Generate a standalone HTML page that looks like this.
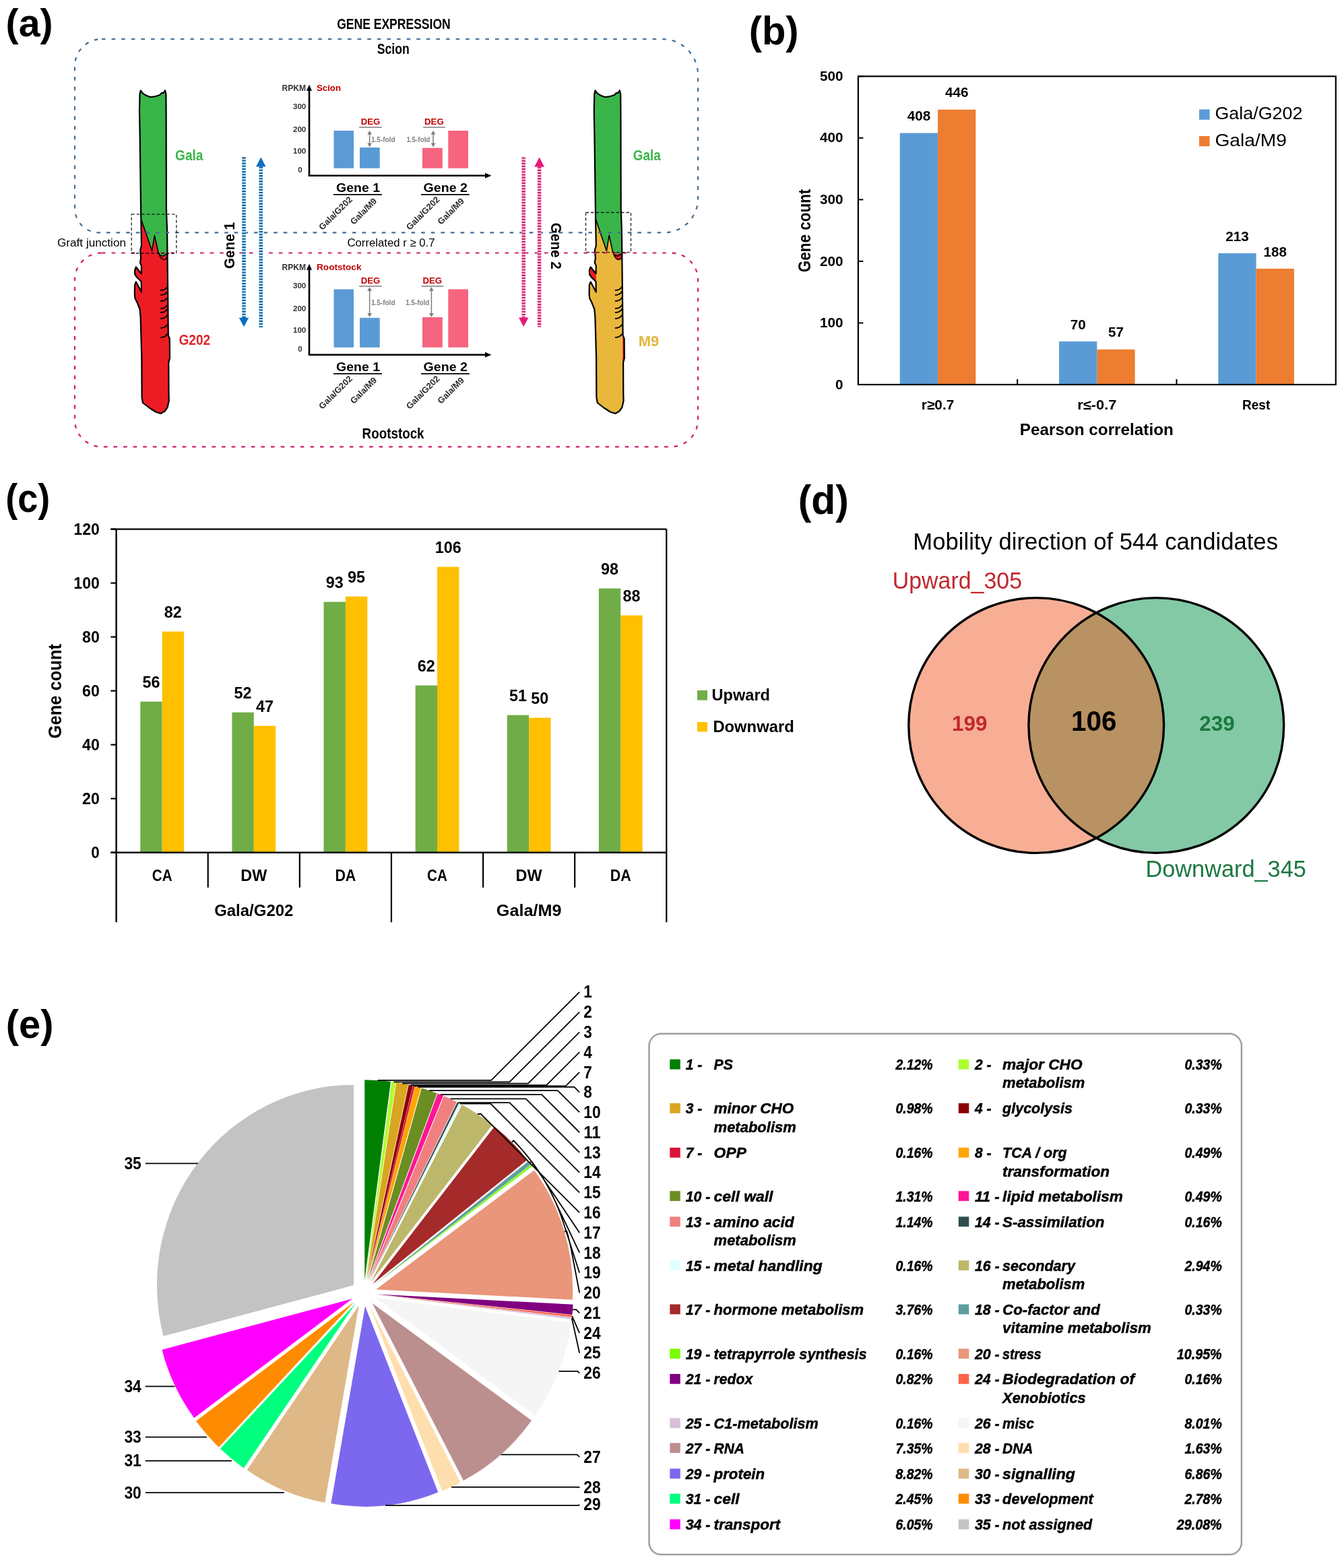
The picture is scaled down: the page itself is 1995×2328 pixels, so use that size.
<!DOCTYPE html>
<html><head><meta charset="utf-8"><title>Figure</title>
<style>html,body{margin:0;padding:0;background:#fff;overflow:hidden}svg{display:block}
text{font-family:'Liberation Sans', Arial, sans-serif}</style></head>
<body><svg width="1995" height="2328" viewBox="0 0 1995 2328">
<rect width="1995" height="2328" fill="#fff"/>
<text x="8.59" y="54.18" font-size="56.81" font-weight="bold" textLength="70.11" lengthAdjust="spacingAndGlyphs">(a)</text>
<text x="1111.71" y="65.94" font-size="59.91" font-weight="bold" textLength="73.89" lengthAdjust="spacingAndGlyphs">(b)</text>
<text x="8.16" y="759.72" font-size="59.06" font-weight="bold" textLength="66.12" lengthAdjust="spacingAndGlyphs">(c)</text>
<text x="1184.67" y="763.13" font-size="60.45" font-weight="bold" textLength="75.14" lengthAdjust="spacingAndGlyphs">(d)</text>
<text x="8.79" y="1541.33" font-size="58.52" font-weight="bold" textLength="70.77" lengthAdjust="spacingAndGlyphs">(e)</text>
<defs><clipPath id="stemclip"><path d="M208.80 134.30 L210.50 136.80 L212.20 138.90 L217.00 141.80 L222.80 144.00 L227.90 143.70 L233.40 142.20 L237.80 140.70 L240.00 137.80 L242.20 138.20 L244.00 136.00 L245.00 134.20 L246.40 139.60 L246.60 165.00 L246.90 310.00 L248.00 340.00 L248.50 377.00 L249.50 470.00 L249.80 498.00 L251.80 503.00 L252.00 532.00 L250.30 538.00 L250.50 585.00 L250.80 595.00 L248.50 605.00 L244.50 610.50 L238.50 614.00 L231.00 611.50 L221.00 605.00 L212.00 598.00 L210.60 590.00 L210.30 531.00 L208.60 470.00 L207.50 459.00 L204.00 450.00 L200.50 443.00 L199.80 437.00 L200.10 423.00 L201.90 418.50 L210.00 433.50 L209.70 418.00 L203.50 412.00 L200.30 407.50 L200.10 401.00 L201.90 396.50 L209.70 406.30 L210.00 394.70 L208.00 390.00 L209.10 383.00 L208.20 371.00 L210.00 365.00 L209.20 318.00 L207.60 197.00 L207.00 165.00 L207.50 139.60 Z"/></clipPath></defs>
<g transform="translate(0.00 0)">
<path d="M208.80 134.30 L210.50 136.80 L212.20 138.90 L217.00 141.80 L222.80 144.00 L227.90 143.70 L233.40 142.20 L237.80 140.70 L240.00 137.80 L242.20 138.20 L244.00 136.00 L245.00 134.20 L246.40 139.60 L246.60 165.00 L246.90 310.00 L248.00 340.00 L248.50 377.00 L249.50 470.00 L249.80 498.00 L251.80 503.00 L252.00 532.00 L250.30 538.00 L250.50 585.00 L250.80 595.00 L248.50 605.00 L244.50 610.50 L238.50 614.00 L231.00 611.50 L221.00 605.00 L212.00 598.00 L210.60 590.00 L210.30 531.00 L208.60 470.00 L207.50 459.00 L204.00 450.00 L200.50 443.00 L199.80 437.00 L200.10 423.00 L201.90 418.50 L210.00 433.50 L209.70 418.00 L203.50 412.00 L200.30 407.50 L200.10 401.00 L201.90 396.50 L209.70 406.30 L210.00 394.70 L208.00 390.00 L209.10 383.00 L208.20 371.00 L210.00 365.00 L209.20 318.00 L207.60 197.00 L207.00 165.00 L207.50 139.60 Z" fill="#ED1C24" stroke="none" stroke-width="1.00" />
<g clip-path="url(#stemclip)">
<path d="M180.00 100.00 L270.00 100.00 L270.00 376.00 L248.00 376.00 L242.00 380.50 L237.00 378.50 L234.80 374.00 L229.40 349.40 L225.60 372.60 L209.70 326.00 L180.00 326.00 Z" fill="#3AB54A" stroke="none" stroke-width="1.00" />
</g>
<path d="M209.7 326 L225.6 372.6 L229.4 349.4 L234.8 374 L237 378.5 L242 380.5 L248.5 376" fill="none" stroke="#000" stroke-width="1.60" stroke-linejoin="round"/>
<path d="M236 377 Q239 386 244.5 385.5 Q248.5 384 248.8 377" fill="none" stroke="#000" stroke-width="1.60" />
<path d="M239 431.0 Q245 431.0 248.3 426.0 M239 438.0 Q245 438.0 248.3 433.0 M239 447.0 Q245 447.0 248.3 442.0 M239 458.0 Q245 458.0 248.3 453.0 M239 464.0 Q245 464.0 248.3 459.0 M239 473.0 Q245 473.0 248.3 468.0 M239 487.0 Q245 487.0 248.3 482.0 M239 501.0 Q245 501.0 248.3 496.0 " fill="none" stroke="#000" stroke-width="2.00" stroke-linecap="round"/>
<path d="M208.80 134.30 L210.50 136.80 L212.20 138.90 L217.00 141.80 L222.80 144.00 L227.90 143.70 L233.40 142.20 L237.80 140.70 L240.00 137.80 L242.20 138.20 L244.00 136.00 L245.00 134.20 L246.40 139.60 L246.60 165.00 L246.90 310.00 L248.00 340.00 L248.50 377.00 L249.50 470.00 L249.80 498.00 L251.80 503.00 L252.00 532.00 L250.30 538.00 L250.50 585.00 L250.80 595.00 L248.50 605.00 L244.50 610.50 L238.50 614.00 L231.00 611.50 L221.00 605.00 L212.00 598.00 L210.60 590.00 L210.30 531.00 L208.60 470.00 L207.50 459.00 L204.00 450.00 L200.50 443.00 L199.80 437.00 L200.10 423.00 L201.90 418.50 L210.00 433.50 L209.70 418.00 L203.50 412.00 L200.30 407.50 L200.10 401.00 L201.90 396.50 L209.70 406.30 L210.00 394.70 L208.00 390.00 L209.10 383.00 L208.20 371.00 L210.00 365.00 L209.20 318.00 L207.60 197.00 L207.00 165.00 L207.50 139.60 Z" fill="none" stroke="#000" stroke-width="2.20" stroke-linejoin="round"/>
</g>
<g transform="translate(674.80 0)">
<path d="M208.80 134.30 L210.50 136.80 L212.20 138.90 L217.00 141.80 L222.80 144.00 L227.90 143.70 L233.40 142.20 L237.80 140.70 L240.00 137.80 L242.20 138.20 L244.00 136.00 L245.00 134.20 L246.40 139.60 L246.60 165.00 L246.90 310.00 L248.00 340.00 L248.50 377.00 L249.50 470.00 L249.80 498.00 L251.80 503.00 L252.00 532.00 L250.30 538.00 L250.50 585.00 L250.80 595.00 L248.50 605.00 L244.50 610.50 L238.50 614.00 L231.00 611.50 L221.00 605.00 L212.00 598.00 L210.60 590.00 L210.30 531.00 L208.60 470.00 L207.50 459.00 L204.00 450.00 L200.50 443.00 L199.80 437.00 L200.10 423.00 L201.90 418.50 L210.00 433.50 L209.70 418.00 L203.50 412.00 L200.30 407.50 L200.10 401.00 L201.90 396.50 L209.70 406.30 L210.00 394.70 L208.00 390.00 L209.10 383.00 L208.20 371.00 L210.00 365.00 L209.20 318.00 L207.60 197.00 L207.00 165.00 L207.50 139.60 Z" fill="#E9B73C" stroke="none" stroke-width="1.00" />
<g clip-path="url(#stemclip)">
<path d="M180.00 100.00 L270.00 100.00 L270.00 376.00 L248.00 376.00 L242.00 380.50 L237.00 378.50 L234.80 374.00 L229.40 349.40 L225.60 372.60 L209.70 326.00 L180.00 326.00 Z" fill="#3AB54A" stroke="none" stroke-width="1.00" />
<path d="M199.00 394.00 L210.00 394.00 L210.00 420.00 L199.00 410.00 Z" fill="#ED1C24" stroke="none" stroke-width="1.00" />
<path d="M236 377 Q239 386 244.5 385.5 Q248.5 384 248.8 377 Z" fill="#ED1C24" stroke="none" stroke-width="1.00" />
<path d="M249.50 500.00 L253.00 500.00 L253.00 537.00 L249.50 537.00 Z" fill="#ED1C24" stroke="none" stroke-width="1.00" />
</g>
<path d="M209.7 326 L225.6 372.6 L229.4 349.4 L234.8 374 L237 378.5 L242 380.5 L248.5 376" fill="none" stroke="#000" stroke-width="1.60" stroke-linejoin="round"/>
<path d="M236 377 Q239 386 244.5 385.5 Q248.5 384 248.8 377" fill="none" stroke="#000" stroke-width="1.60" />
<path d="M239 431.0 Q245 431.0 248.3 426.0 M239 438.0 Q245 438.0 248.3 433.0 M239 447.0 Q245 447.0 248.3 442.0 M239 458.0 Q245 458.0 248.3 453.0 M239 464.0 Q245 464.0 248.3 459.0 M239 473.0 Q245 473.0 248.3 468.0 M239 487.0 Q245 487.0 248.3 482.0 M239 501.0 Q245 501.0 248.3 496.0 " fill="none" stroke="#000" stroke-width="2.00" stroke-linecap="round"/>
<path d="M208.80 134.30 L210.50 136.80 L212.20 138.90 L217.00 141.80 L222.80 144.00 L227.90 143.70 L233.40 142.20 L237.80 140.70 L240.00 137.80 L242.20 138.20 L244.00 136.00 L245.00 134.20 L246.40 139.60 L246.60 165.00 L246.90 310.00 L248.00 340.00 L248.50 377.00 L249.50 470.00 L249.80 498.00 L251.80 503.00 L252.00 532.00 L250.30 538.00 L250.50 585.00 L250.80 595.00 L248.50 605.00 L244.50 610.50 L238.50 614.00 L231.00 611.50 L221.00 605.00 L212.00 598.00 L210.60 590.00 L210.30 531.00 L208.60 470.00 L207.50 459.00 L204.00 450.00 L200.50 443.00 L199.80 437.00 L200.10 423.00 L201.90 418.50 L210.00 433.50 L209.70 418.00 L203.50 412.00 L200.30 407.50 L200.10 401.00 L201.90 396.50 L209.70 406.30 L210.00 394.70 L208.00 390.00 L209.10 383.00 L208.20 371.00 L210.00 365.00 L209.20 318.00 L207.60 197.00 L207.00 165.00 L207.50 139.60 Z" fill="none" stroke="#000" stroke-width="2.20" stroke-linejoin="round"/>
</g>
<path d="M151 58 H983 A53 53 0 0 1 1036 111 V295 A50.4 50.4 0 0 1 985.6 345.4 H147 A36 36 0 0 1 111 309.4 V98 A40 40 0 0 1 151 58 Z" fill="none" stroke="#3E6D99" stroke-width="2.20" stroke-dasharray="5.6 9"/>
<path d="M151 375.5 H996 A40 40 0 0 1 1036 415.5 V623.3 A40 40 0 0 1 996 663.3 H151 A40 40 0 0 1 111 623.3 V415.5 A40 40 0 0 1 151 375.5 Z" fill="none" stroke="#D31A6C" stroke-width="2.20" stroke-dasharray="5.6 9"/>
<rect x="195.2" y="318.2" width="66.7" height="57.8" fill="none" stroke="#222" stroke-width="1.3" stroke-dasharray="4.5 3" style="mix-blend-mode:multiply"/>
<rect x="869.5" y="315.5" width="67.0" height="59.1" fill="none" stroke="#222" stroke-width="1.3" stroke-dasharray="4.5 3" style="mix-blend-mode:multiply"/>
<line x1="362.00" y1="233.30" x2="362.00" y2="472.00" stroke="#CDEFFB" stroke-width="5.50" />
<line x1="362.00" y1="233.30" x2="362.00" y2="472.00" stroke="#0D5C9E" stroke-width="5.50" stroke-dasharray="2.1 2.05"/>
<path d="M354.8 471.7 L369.2 471.7 L362 485.2 Z" fill="#0B6CC2" stroke="none" stroke-width="1.00" />
<line x1="387.30" y1="247.60" x2="387.30" y2="486.00" stroke="#CDEFFB" stroke-width="5.50" />
<line x1="387.30" y1="247.60" x2="387.30" y2="486.00" stroke="#0D5C9E" stroke-width="5.50" stroke-dasharray="2.1 2.05"/>
<path d="M380 247.6 L394.6 247.6 L387.3 233.6 Z" fill="#0B6CC2" stroke="none" stroke-width="1.00" />
<line x1="777.20" y1="233.50" x2="777.20" y2="471.40" stroke="#F8C9DC" stroke-width="5.50" />
<line x1="777.20" y1="233.50" x2="777.20" y2="471.40" stroke="#D11F6D" stroke-width="5.50" stroke-dasharray="2.1 2.05"/>
<path d="M770 471.4 L784.6 471.4 L777.2 484.9 Z" fill="#E6197A" stroke="none" stroke-width="1.00" />
<line x1="800.60" y1="247.70" x2="800.60" y2="485.50" stroke="#F8C9DC" stroke-width="5.50" />
<line x1="800.60" y1="247.70" x2="800.60" y2="485.50" stroke="#D11F6D" stroke-width="5.50" stroke-dasharray="2.1 2.05"/>
<path d="M793.2 247.7 L808 247.7 L800.6 233.5 Z" fill="#E6197A" stroke="none" stroke-width="1.00" />
<text x="500.20" y="43.20" font-size="21.50" font-weight="bold" textLength="168.50" lengthAdjust="spacingAndGlyphs">GENE EXPRESSION</text>
<text x="583.80" y="80.00" font-size="21.50" font-weight="bold" text-anchor="middle" textLength="48.00" lengthAdjust="spacingAndGlyphs">Scion</text>
<text x="583.60" y="650.80" font-size="21.50" font-weight="bold" text-anchor="middle" textLength="92.00" lengthAdjust="spacingAndGlyphs">Rootstock</text>
<text x="260.00" y="237.90" font-size="22.50" font-weight="bold" fill="#3AB54A" textLength="41.50" lengthAdjust="spacingAndGlyphs">Gala</text>
<text x="939.70" y="238.00" font-size="22.50" font-weight="bold" fill="#3AB54A" textLength="41.00" lengthAdjust="spacingAndGlyphs">Gala</text>
<text x="265.40" y="512.30" font-size="22.20" font-weight="bold" fill="#E0262B" textLength="46.80" lengthAdjust="spacingAndGlyphs">G202</text>
<text x="947.80" y="513.70" font-size="22.20" font-weight="bold" fill="#E5B53C" textLength="30.50" lengthAdjust="spacingAndGlyphs">M9</text>
<text x="85.00" y="366.00" font-size="17.00" textLength="102.00" lengthAdjust="spacingAndGlyphs">Graft junction</text>
<text x="515.50" y="366.40" font-size="17.00" textLength="130.00" lengthAdjust="spacingAndGlyphs">Correlated r ≥ 0.7</text>
<text transform="translate(348.40 399.00) rotate(-90.00)" x="0.00" y="0.00" font-size="22.40" font-weight="bold" textLength="69.00" lengthAdjust="spacingAndGlyphs">Gene 1</text>
<text transform="translate(817.70 330.80) rotate(90.00)" x="0.00" y="0.00" font-size="22.40" font-weight="bold" textLength="69.00" lengthAdjust="spacingAndGlyphs">Gene 2</text>
<line x1="459.00" y1="133.70" x2="459.00" y2="260.80" stroke="#000" stroke-width="2.60" />
<path d="M455.0 134.7 L463.0 134.7 L459.0 125.7 Z" fill="#000" stroke="none" stroke-width="1.00" />
<line x1="457.70" y1="260.80" x2="721.00" y2="260.80" stroke="#000" stroke-width="2.60" />
<path d="M720 256.8 L720 264.8 L729.5 260.8 Z" fill="#000" stroke="none" stroke-width="1.00" />
<text x="454.00" y="134.50" font-size="12.60" font-weight="bold" text-anchor="end" fill="#333" textLength="35.50" lengthAdjust="spacingAndGlyphs">RPKM</text>
<text x="470.00" y="135.00" font-size="12.80" font-weight="bold" fill="#C00000" textLength="36.00" lengthAdjust="spacingAndGlyphs">Scion</text>
<text x="454.30" y="162.00" font-size="11.60" font-weight="bold" text-anchor="end" fill="#333">300</text>
<text x="454.30" y="195.50" font-size="11.60" font-weight="bold" text-anchor="end" fill="#333">200</text>
<text x="454.30" y="228.00" font-size="11.60" font-weight="bold" text-anchor="end" fill="#333">100</text>
<text x="448.80" y="256.00" font-size="11.60" font-weight="bold" text-anchor="end" fill="#333">0</text>
<rect x="495.50" y="194.00" width="29.50" height="55.80" fill="#5B9BD5" />
<rect x="534.00" y="219.00" width="29.70" height="30.80" fill="#5B9BD5" />
<rect x="627.00" y="219.60" width="29.80" height="30.20" fill="#F7647F" />
<rect x="665.30" y="194.00" width="29.70" height="55.80" fill="#F7647F" />
<text x="550.10" y="185.00" font-size="13.40" font-weight="bold" text-anchor="middle" fill="#C00000" textLength="28.60" lengthAdjust="spacingAndGlyphs">DEG</text>
<line x1="533.00" y1="189.00" x2="566.70" y2="189.00" stroke="#7F7F7F" stroke-width="1.60" />
<text x="644.40" y="185.00" font-size="13.40" font-weight="bold" text-anchor="middle" fill="#C00000" textLength="28.60" lengthAdjust="spacingAndGlyphs">DEG</text>
<line x1="628.00" y1="189.00" x2="660.80" y2="189.00" stroke="#7F7F7F" stroke-width="1.60" />
<line x1="548.60" y1="198.70" x2="548.60" y2="213.50" stroke="#7F7F7F" stroke-width="1.50" />
<path d="M545.3 199.7 L551.9 199.7 L548.6 193.7 Z" fill="#7F7F7F" stroke="none" stroke-width="1.00" />
<path d="M545.3 212.5 L551.9 212.5 L548.6 218.5 Z" fill="#7F7F7F" stroke="none" stroke-width="1.00" />
<line x1="643.00" y1="198.70" x2="643.00" y2="213.50" stroke="#7F7F7F" stroke-width="1.50" />
<path d="M639.7 199.7 L646.3 199.7 L643.0 193.7 Z" fill="#7F7F7F" stroke="none" stroke-width="1.00" />
<path d="M639.7 212.5 L646.3 212.5 L643.0 218.5 Z" fill="#7F7F7F" stroke="none" stroke-width="1.00" />
<text x="551.00" y="211.00" font-size="11.60" font-weight="bold" fill="#808080" textLength="35.50" lengthAdjust="spacingAndGlyphs">1.5-fold</text>
<text x="603.40" y="210.50" font-size="11.60" font-weight="bold" fill="#808080" textLength="35.00" lengthAdjust="spacingAndGlyphs">1.5-fold</text>
<text x="531.50" y="285.00" font-size="17.80" font-weight="bold" text-anchor="middle" textLength="65.00" lengthAdjust="spacingAndGlyphs">Gene 1</text>
<line x1="495.00" y1="288.80" x2="567.00" y2="288.80" stroke="#000" stroke-width="1.80" />
<text x="661.30" y="285.00" font-size="17.80" font-weight="bold" text-anchor="middle" textLength="65.50" lengthAdjust="spacingAndGlyphs">Gene 2</text>
<line x1="625.00" y1="288.80" x2="696.80" y2="288.80" stroke="#000" stroke-width="1.80" />
<text transform="translate(523.80 297.00) rotate(-45.00)" x="0.00" y="0.00" font-size="13.00" font-weight="bold" text-anchor="end" fill="#2b2b2b" textLength="64.00" lengthAdjust="spacingAndGlyphs">Gala/G202</text>
<text transform="translate(560.20 299.30) rotate(-45.00)" x="0.00" y="0.00" font-size="13.00" font-weight="bold" text-anchor="end" fill="#2b2b2b" textLength="49.50" lengthAdjust="spacingAndGlyphs">Gala/M9</text>
<text transform="translate(653.40 297.00) rotate(-45.00)" x="0.00" y="0.00" font-size="13.00" font-weight="bold" text-anchor="end" fill="#2b2b2b" textLength="64.00" lengthAdjust="spacingAndGlyphs">Gala/G202</text>
<text transform="translate(689.80 299.30) rotate(-45.00)" x="0.00" y="0.00" font-size="13.00" font-weight="bold" text-anchor="end" fill="#2b2b2b" textLength="49.50" lengthAdjust="spacingAndGlyphs">Gala/M9</text>
<line x1="459.00" y1="399.70" x2="459.00" y2="526.80" stroke="#000" stroke-width="2.60" />
<path d="M455.0 400.7 L463.0 400.7 L459.0 391.7 Z" fill="#000" stroke="none" stroke-width="1.00" />
<line x1="457.70" y1="526.80" x2="721.00" y2="526.80" stroke="#000" stroke-width="2.60" />
<path d="M720 522.8 L720 530.8 L729.5 526.8 Z" fill="#000" stroke="none" stroke-width="1.00" />
<text x="454.00" y="400.50" font-size="12.60" font-weight="bold" text-anchor="end" fill="#333" textLength="35.50" lengthAdjust="spacingAndGlyphs">RPKM</text>
<text x="470.00" y="401.00" font-size="12.80" font-weight="bold" fill="#C00000" textLength="66.50" lengthAdjust="spacingAndGlyphs">Rootstock</text>
<text x="454.30" y="428.00" font-size="11.60" font-weight="bold" text-anchor="end" fill="#333">300</text>
<text x="454.30" y="461.50" font-size="11.60" font-weight="bold" text-anchor="end" fill="#333">200</text>
<text x="454.30" y="494.00" font-size="11.60" font-weight="bold" text-anchor="end" fill="#333">100</text>
<text x="448.80" y="522.00" font-size="11.60" font-weight="bold" text-anchor="end" fill="#333">0</text>
<rect x="495.50" y="429.50" width="29.50" height="86.30" fill="#5B9BD5" />
<rect x="534.00" y="471.90" width="29.70" height="43.90" fill="#5B9BD5" />
<rect x="627.00" y="471.00" width="29.80" height="44.80" fill="#F7647F" />
<rect x="665.30" y="429.50" width="29.70" height="86.30" fill="#F7647F" />
<text x="550.10" y="421.20" font-size="13.40" font-weight="bold" text-anchor="middle" fill="#C00000" textLength="28.60" lengthAdjust="spacingAndGlyphs">DEG</text>
<line x1="533.00" y1="425.00" x2="566.70" y2="425.00" stroke="#7F7F7F" stroke-width="1.60" />
<text x="641.80" y="421.20" font-size="13.40" font-weight="bold" text-anchor="middle" fill="#C00000" textLength="28.60" lengthAdjust="spacingAndGlyphs">DEG</text>
<line x1="625.40" y1="425.00" x2="658.20" y2="425.00" stroke="#7F7F7F" stroke-width="1.60" />
<line x1="548.60" y1="431.00" x2="548.60" y2="466.00" stroke="#7F7F7F" stroke-width="1.50" />
<path d="M545.3 432.0 L551.9 432.0 L548.6 426.0 Z" fill="#7F7F7F" stroke="none" stroke-width="1.00" />
<path d="M545.3 465.0 L551.9 465.0 L548.6 471.0 Z" fill="#7F7F7F" stroke="none" stroke-width="1.00" />
<line x1="640.40" y1="431.00" x2="640.40" y2="466.00" stroke="#7F7F7F" stroke-width="1.50" />
<path d="M637.1 432.0 L643.7 432.0 L640.4 426.0 Z" fill="#7F7F7F" stroke="none" stroke-width="1.00" />
<path d="M637.1 465.0 L643.7 465.0 L640.4 471.0 Z" fill="#7F7F7F" stroke="none" stroke-width="1.00" />
<text x="551.00" y="453.00" font-size="11.60" font-weight="bold" fill="#808080" textLength="35.50" lengthAdjust="spacingAndGlyphs">1.5-fold</text>
<text x="602.36" y="452.50" font-size="11.60" font-weight="bold" fill="#808080" textLength="35.00" lengthAdjust="spacingAndGlyphs">1.5-fold</text>
<text x="531.50" y="551.00" font-size="17.80" font-weight="bold" text-anchor="middle" textLength="65.00" lengthAdjust="spacingAndGlyphs">Gene 1</text>
<line x1="495.00" y1="554.80" x2="567.00" y2="554.80" stroke="#000" stroke-width="1.80" />
<text x="661.30" y="551.00" font-size="17.80" font-weight="bold" text-anchor="middle" textLength="65.50" lengthAdjust="spacingAndGlyphs">Gene 2</text>
<line x1="625.00" y1="554.80" x2="696.80" y2="554.80" stroke="#000" stroke-width="1.80" />
<text transform="translate(523.80 563.00) rotate(-45.00)" x="0.00" y="0.00" font-size="13.00" font-weight="bold" text-anchor="end" fill="#2b2b2b" textLength="64.00" lengthAdjust="spacingAndGlyphs">Gala/G202</text>
<text transform="translate(560.20 565.30) rotate(-45.00)" x="0.00" y="0.00" font-size="13.00" font-weight="bold" text-anchor="end" fill="#2b2b2b" textLength="49.50" lengthAdjust="spacingAndGlyphs">Gala/M9</text>
<text transform="translate(653.40 563.00) rotate(-45.00)" x="0.00" y="0.00" font-size="13.00" font-weight="bold" text-anchor="end" fill="#2b2b2b" textLength="64.00" lengthAdjust="spacingAndGlyphs">Gala/G202</text>
<text transform="translate(689.80 565.30) rotate(-45.00)" x="0.00" y="0.00" font-size="13.00" font-weight="bold" text-anchor="end" fill="#2b2b2b" textLength="49.50" lengthAdjust="spacingAndGlyphs">Gala/M9</text>
<rect x="1335.75" y="197.52" width="56.30" height="373.48" fill="#5B9BD5" />
<rect x="1392.05" y="162.73" width="56.30" height="408.27" fill="#ED7D31" />
<text x="1363.90" y="179.12" font-size="20.20" font-weight="bold" text-anchor="middle" textLength="34.50" lengthAdjust="spacingAndGlyphs">408</text>
<text x="1420.20" y="144.33" font-size="20.20" font-weight="bold" text-anchor="middle" textLength="34.50" lengthAdjust="spacingAndGlyphs">446</text>
<rect x="1572.05" y="506.92" width="56.30" height="64.08" fill="#5B9BD5" />
<rect x="1628.35" y="518.82" width="56.30" height="52.18" fill="#ED7D31" />
<text x="1600.20" y="488.52" font-size="20.20" font-weight="bold" text-anchor="middle" textLength="23.00" lengthAdjust="spacingAndGlyphs">70</text>
<text x="1656.50" y="500.42" font-size="20.20" font-weight="bold" text-anchor="middle" textLength="23.00" lengthAdjust="spacingAndGlyphs">57</text>
<rect x="1808.35" y="376.02" width="56.30" height="194.98" fill="#5B9BD5" />
<rect x="1864.65" y="398.90" width="56.30" height="172.10" fill="#ED7D31" />
<text x="1836.50" y="357.62" font-size="20.20" font-weight="bold" text-anchor="middle" textLength="34.50" lengthAdjust="spacingAndGlyphs">213</text>
<text x="1892.80" y="380.50" font-size="20.20" font-weight="bold" text-anchor="middle" textLength="34.50" lengthAdjust="spacingAndGlyphs">188</text>
<rect x="1273.90" y="113.30" width="708.90" height="457.70" fill="none" stroke="#000" stroke-width="2.2"/>
<line x1="1273.90" y1="571.00" x2="1281.40" y2="571.00" stroke="#000" stroke-width="2.00" />
<text x="1251.60" y="577.60" font-size="20.20" font-weight="bold" text-anchor="end" textLength="11.50" lengthAdjust="spacingAndGlyphs">0</text>
<line x1="1273.90" y1="479.46" x2="1281.40" y2="479.46" stroke="#000" stroke-width="2.00" />
<text x="1251.60" y="486.06" font-size="20.20" font-weight="bold" text-anchor="end" textLength="34.50" lengthAdjust="spacingAndGlyphs">100</text>
<line x1="1273.90" y1="387.92" x2="1281.40" y2="387.92" stroke="#000" stroke-width="2.00" />
<text x="1251.60" y="394.52" font-size="20.20" font-weight="bold" text-anchor="end" textLength="34.50" lengthAdjust="spacingAndGlyphs">200</text>
<line x1="1273.90" y1="296.38" x2="1281.40" y2="296.38" stroke="#000" stroke-width="2.00" />
<text x="1251.60" y="302.98" font-size="20.20" font-weight="bold" text-anchor="end" textLength="34.50" lengthAdjust="spacingAndGlyphs">300</text>
<line x1="1273.90" y1="204.84" x2="1281.40" y2="204.84" stroke="#000" stroke-width="2.00" />
<text x="1251.60" y="211.44" font-size="20.20" font-weight="bold" text-anchor="end" textLength="34.50" lengthAdjust="spacingAndGlyphs">400</text>
<line x1="1273.90" y1="113.30" x2="1281.40" y2="113.30" stroke="#000" stroke-width="2.00" />
<text x="1251.60" y="119.90" font-size="20.20" font-weight="bold" text-anchor="end" textLength="34.50" lengthAdjust="spacingAndGlyphs">500</text>
<line x1="1510.20" y1="563.00" x2="1510.20" y2="571.00" stroke="#000" stroke-width="2.00" />
<line x1="1746.50" y1="563.00" x2="1746.50" y2="571.00" stroke="#000" stroke-width="2.00" />
<text x="1392.05" y="608.20" font-size="20.20" font-weight="bold" text-anchor="middle" textLength="48.40" lengthAdjust="spacingAndGlyphs">r≥0.7</text>
<text x="1628.35" y="608.20" font-size="20.20" font-weight="bold" text-anchor="middle" textLength="58.00" lengthAdjust="spacingAndGlyphs">r≤-0.7</text>
<text x="1864.65" y="608.20" font-size="20.20" font-weight="bold" text-anchor="middle" textLength="41.30" lengthAdjust="spacingAndGlyphs">Rest</text>
<text x="1627.80" y="646.20" font-size="24.50" font-weight="bold" text-anchor="middle" textLength="228.00" lengthAdjust="spacingAndGlyphs">Pearson correlation</text>
<text transform="translate(1203.30 342.40) rotate(-90.00)" x="0.00" y="0.00" font-size="25.50" font-weight="bold" text-anchor="middle" textLength="123.50" lengthAdjust="spacingAndGlyphs">Gene count</text>
<rect x="1780.00" y="162.50" width="15.60" height="15.20" fill="#5B9BD5" />
<rect x="1780.00" y="202.00" width="15.60" height="15.20" fill="#ED7D31" />
<text x="1803.40" y="176.50" font-size="26.50" textLength="130.00" lengthAdjust="spacingAndGlyphs">Gala/G202</text>
<text x="1803.40" y="216.60" font-size="26.50" textLength="106.50" lengthAdjust="spacingAndGlyphs">Gala/M9</text>
<rect x="208.26" y="1041.65" width="32.40" height="224.05" fill="#70AD47" />
<rect x="240.66" y="937.63" width="32.40" height="328.07" fill="#FFC000" />
<text x="224.46" y="1021.45" font-size="23.00" font-weight="bold" text-anchor="middle" textLength="26.00" lengthAdjust="spacingAndGlyphs">56</text>
<text x="256.86" y="917.43" font-size="23.00" font-weight="bold" text-anchor="middle" textLength="26.00" lengthAdjust="spacingAndGlyphs">82</text>
<rect x="344.38" y="1057.66" width="32.40" height="208.04" fill="#70AD47" />
<rect x="376.77" y="1077.66" width="32.40" height="188.04" fill="#FFC000" />
<text x="360.57" y="1037.46" font-size="23.00" font-weight="bold" text-anchor="middle" textLength="26.00" lengthAdjust="spacingAndGlyphs">52</text>
<text x="392.97" y="1057.46" font-size="23.00" font-weight="bold" text-anchor="middle" textLength="26.00" lengthAdjust="spacingAndGlyphs">47</text>
<rect x="480.49" y="893.62" width="32.40" height="372.08" fill="#70AD47" />
<rect x="512.89" y="885.62" width="32.40" height="380.08" fill="#FFC000" />
<text x="496.69" y="873.42" font-size="23.00" font-weight="bold" text-anchor="middle" textLength="26.00" lengthAdjust="spacingAndGlyphs">93</text>
<text x="529.09" y="865.42" font-size="23.00" font-weight="bold" text-anchor="middle" textLength="26.00" lengthAdjust="spacingAndGlyphs">95</text>
<rect x="616.61" y="1017.65" width="32.40" height="248.05" fill="#70AD47" />
<rect x="649.01" y="841.61" width="32.40" height="424.09" fill="#FFC000" />
<text x="632.81" y="997.45" font-size="23.00" font-weight="bold" text-anchor="middle" textLength="26.00" lengthAdjust="spacingAndGlyphs">62</text>
<text x="665.21" y="821.41" font-size="23.00" font-weight="bold" text-anchor="middle" textLength="39.00" lengthAdjust="spacingAndGlyphs">106</text>
<rect x="752.72" y="1061.66" width="32.40" height="204.04" fill="#70AD47" />
<rect x="785.12" y="1065.66" width="32.40" height="200.04" fill="#FFC000" />
<text x="768.92" y="1041.46" font-size="23.00" font-weight="bold" text-anchor="middle" textLength="26.00" lengthAdjust="spacingAndGlyphs">51</text>
<text x="801.32" y="1045.46" font-size="23.00" font-weight="bold" text-anchor="middle" textLength="26.00" lengthAdjust="spacingAndGlyphs">50</text>
<rect x="888.84" y="873.62" width="32.40" height="392.08" fill="#70AD47" />
<rect x="921.24" y="913.63" width="32.40" height="352.07" fill="#FFC000" />
<text x="905.04" y="853.42" font-size="23.00" font-weight="bold" text-anchor="middle" textLength="26.00" lengthAdjust="spacingAndGlyphs">98</text>
<text x="937.44" y="893.43" font-size="23.00" font-weight="bold" text-anchor="middle" textLength="26.00" lengthAdjust="spacingAndGlyphs">88</text>
<line x1="164.40" y1="785.60" x2="989.30" y2="785.60" stroke="#000" stroke-width="2.20" />
<line x1="989.30" y1="785.60" x2="989.30" y2="1369.30" stroke="#000" stroke-width="2.20" />
<line x1="172.60" y1="785.60" x2="172.60" y2="1369.30" stroke="#000" stroke-width="2.40" />
<line x1="164.40" y1="1265.70" x2="989.30" y2="1265.70" stroke="#000" stroke-width="2.40" />
<line x1="164.40" y1="1265.70" x2="172.60" y2="1265.70" stroke="#000" stroke-width="2.20" />
<text x="147.80" y="1273.60" font-size="23.00" font-weight="bold" text-anchor="end" textLength="12.50" lengthAdjust="spacingAndGlyphs">0</text>
<line x1="164.40" y1="1185.68" x2="172.60" y2="1185.68" stroke="#000" stroke-width="2.20" />
<text x="147.80" y="1193.58" font-size="23.00" font-weight="bold" text-anchor="end" textLength="25.80" lengthAdjust="spacingAndGlyphs">20</text>
<line x1="164.40" y1="1105.67" x2="172.60" y2="1105.67" stroke="#000" stroke-width="2.20" />
<text x="147.80" y="1113.57" font-size="23.00" font-weight="bold" text-anchor="end" textLength="25.80" lengthAdjust="spacingAndGlyphs">40</text>
<line x1="164.40" y1="1025.65" x2="172.60" y2="1025.65" stroke="#000" stroke-width="2.20" />
<text x="147.80" y="1033.55" font-size="23.00" font-weight="bold" text-anchor="end" textLength="25.80" lengthAdjust="spacingAndGlyphs">60</text>
<line x1="164.40" y1="945.63" x2="172.60" y2="945.63" stroke="#000" stroke-width="2.20" />
<text x="147.80" y="953.53" font-size="23.00" font-weight="bold" text-anchor="end" textLength="25.80" lengthAdjust="spacingAndGlyphs">80</text>
<line x1="164.40" y1="865.62" x2="172.60" y2="865.62" stroke="#000" stroke-width="2.20" />
<text x="147.80" y="873.52" font-size="23.00" font-weight="bold" text-anchor="end" textLength="38.50" lengthAdjust="spacingAndGlyphs">100</text>
<line x1="164.40" y1="785.60" x2="172.60" y2="785.60" stroke="#000" stroke-width="2.20" />
<text x="147.80" y="793.50" font-size="23.00" font-weight="bold" text-anchor="end" textLength="38.50" lengthAdjust="spacingAndGlyphs">120</text>
<line x1="308.72" y1="1265.70" x2="308.72" y2="1317.70" stroke="#000" stroke-width="2.20" />
<line x1="444.83" y1="1265.70" x2="444.83" y2="1317.70" stroke="#000" stroke-width="2.20" />
<line x1="717.07" y1="1265.70" x2="717.07" y2="1317.70" stroke="#000" stroke-width="2.20" />
<line x1="853.18" y1="1265.70" x2="853.18" y2="1317.70" stroke="#000" stroke-width="2.20" />
<line x1="580.95" y1="1265.70" x2="580.95" y2="1369.30" stroke="#000" stroke-width="2.20" />
<text x="240.66" y="1308.30" font-size="23.40" font-weight="bold" text-anchor="middle" textLength="29.80" lengthAdjust="spacingAndGlyphs">CA</text>
<text x="376.77" y="1308.30" font-size="23.40" font-weight="bold" text-anchor="middle" textLength="39.00" lengthAdjust="spacingAndGlyphs">DW</text>
<text x="512.89" y="1308.30" font-size="23.40" font-weight="bold" text-anchor="middle" textLength="31.00" lengthAdjust="spacingAndGlyphs">DA</text>
<text x="649.01" y="1308.30" font-size="23.40" font-weight="bold" text-anchor="middle" textLength="29.80" lengthAdjust="spacingAndGlyphs">CA</text>
<text x="785.12" y="1308.30" font-size="23.40" font-weight="bold" text-anchor="middle" textLength="39.00" lengthAdjust="spacingAndGlyphs">DW</text>
<text x="921.24" y="1308.30" font-size="23.40" font-weight="bold" text-anchor="middle" textLength="31.00" lengthAdjust="spacingAndGlyphs">DA</text>
<text x="376.77" y="1360.00" font-size="23.40" font-weight="bold" text-anchor="middle" textLength="117.20" lengthAdjust="spacingAndGlyphs">Gala/G202</text>
<text x="785.12" y="1360.00" font-size="23.40" font-weight="bold" text-anchor="middle" textLength="96.60" lengthAdjust="spacingAndGlyphs">Gala/M9</text>
<text transform="translate(91.20 1026.20) rotate(-90.00)" x="0.00" y="0.00" font-size="27.00" font-weight="bold" text-anchor="middle" textLength="140.40" lengthAdjust="spacingAndGlyphs">Gene count</text>
<rect x="1035.00" y="1025.00" width="15.00" height="14.60" fill="#70AD47" />
<rect x="1035.00" y="1072.00" width="15.00" height="14.40" fill="#FFC000" />
<text x="1056.60" y="1040.00" font-size="23.00" font-weight="bold" textLength="86.40" lengthAdjust="spacingAndGlyphs">Upward</text>
<text x="1058.40" y="1087.00" font-size="23.00" font-weight="bold" textLength="120.30" lengthAdjust="spacingAndGlyphs">Downward</text>
<text x="1355.30" y="815.70" font-size="34.50" textLength="541.70" lengthAdjust="spacingAndGlyphs">Mobility direction of 544 candidates</text>
<text x="1324.80" y="874.40" font-size="34.50" fill="#C1272D" textLength="192.20" lengthAdjust="spacingAndGlyphs">Upward_305</text>
<text x="1700.40" y="1302.00" font-size="34.50" fill="#1A7840" textLength="238.50" lengthAdjust="spacingAndGlyphs">Downward_345</text>
<defs><clipPath id="vennL"><circle cx="1538.2" cy="1077.0" r="189.4"/></clipPath></defs>
<circle cx="1538.2" cy="1077.0" r="189.4" fill="#F7AE95"/>
<circle cx="1716.3" cy="1077.0" r="189.4" fill="#83C9A5"/>
<circle cx="1716.3" cy="1077.0" r="189.4" fill="#B89262" clip-path="url(#vennL)"/>
<circle cx="1538.2" cy="1077.0" r="189.4" fill="none" stroke="#000" stroke-width="3.4"/>
<circle cx="1716.3" cy="1077.0" r="189.4" fill="none" stroke="#000" stroke-width="3.4"/>
<text x="1439.20" y="1084.80" font-size="32.20" font-weight="bold" text-anchor="middle" fill="#C1272D" textLength="52.50" lengthAdjust="spacingAndGlyphs">199</text>
<text x="1623.80" y="1085.20" font-size="42.20" font-weight="bold" text-anchor="middle" textLength="67.50" lengthAdjust="spacingAndGlyphs">106</text>
<text x="1806.60" y="1084.80" font-size="32.20" font-weight="bold" text-anchor="middle" fill="#1A7840" textLength="52.50" lengthAdjust="spacingAndGlyphs">239</text>
<path d="M541.26 1900.69 L541.26 1603.19 A292.00 297.50 0 0 1 580.05 1605.82 Z" fill="#008000"/>
<path d="M542.72 1900.84 L581.51 1605.98 A292.00 297.50 0 0 1 587.50 1606.86 Z" fill="#ADFF2F"/>
<path d="M543.49 1900.97 L588.27 1606.99 A292.00 297.50 0 0 1 605.95 1610.36 Z" fill="#DAA520"/>
<path d="M544.26 1901.13 L606.71 1610.52 A292.00 297.50 0 0 1 612.61 1611.90 Z" fill="#8B0000"/>
<path d="M544.54 1901.20 L612.90 1611.97 A292.00 297.50 0 0 1 615.75 1612.68 Z" fill="#DC143C"/>
<path d="M544.92 1901.30 L616.13 1612.78 A292.00 297.50 0 0 1 624.81 1615.15 Z" fill="#FFA500"/>
<path d="M545.95 1901.61 L625.84 1615.47 A292.00 297.50 0 0 1 648.67 1623.13 Z" fill="#6B8E23"/>
<path d="M546.96 1901.99 L649.68 1623.50 A292.00 297.50 0 0 1 658.04 1626.86 Z" fill="#FF1493"/>
<path d="M547.85 1902.37 L658.94 1627.24 A292.00 297.50 0 0 1 677.98 1636.05 Z" fill="#F08080"/>
<path d="M548.55 1902.71 L678.68 1636.39 A292.00 297.50 0 0 1 681.31 1637.74 Z" fill="#2F4F4F"/>
<path d="M548.72 1902.80 L681.48 1637.83 A292.00 297.50 0 0 1 684.08 1639.20 Z" fill="#E0FFFF"/>
<path d="M550.32 1903.75 L685.68 1640.15 A292.00 297.50 0 0 1 730.91 1669.97 Z" fill="#BDB76B"/>
<path d="M553.43 1906.31 L734.02 1672.52 A292.00 297.50 0 0 1 782.72 1722.09 Z" fill="#A52A2A"/>
<path d="M555.04 1908.17 L784.33 1723.96 A292.00 297.50 0 0 1 788.03 1728.84 Z" fill="#5F9EA0"/>
<path d="M555.22 1908.41 L788.21 1729.08 A292.00 297.50 0 0 1 789.96 1731.48 Z" fill="#7CFC00"/>
<path d="M558.19 1914.41 L792.94 1737.48 A292.00 297.50 0 0 1 849.81 1929.64 Z" fill="#E9967A"/>
<path d="M558.94 1921.49 L850.56 1936.72 A292.00 297.50 0 0 1 849.40 1952.00 Z" fill="#800080"/>
<path d="M558.89 1922.08 L849.35 1952.60 A292.00 297.50 0 0 1 849.03 1955.57 Z" fill="#FF6347"/>
<path d="M558.87 1922.28 L849.01 1955.76 A292.00 297.50 0 0 1 848.67 1958.73 Z" fill="#D8BFD8"/>
<path d="M557.68 1927.08 L847.48 1963.54 A292.00 297.50 0 0 1 794.27 2101.45 Z" fill="#F5F5F5"/>
<path d="M552.44 1934.63 L789.03 2109.00 A292.00 297.50 0 0 1 687.96 2198.15 Z" fill="#BC8F8F"/>
<path d="M547.95 1937.58 L683.47 2201.10 A292.00 297.50 0 0 1 656.31 2213.84 Z" fill="#FFDEAD"/>
<path d="M541.95 1939.26 L650.32 2215.51 A292.00 297.50 0 0 1 491.38 2232.26 Z" fill="#7B68EE"/>
<path d="M532.78 1937.91 L482.21 2230.91 A292.00 297.50 0 0 1 366.66 2182.57 Z" fill="#DEB887"/>
<path d="M528.02 1935.03 L361.90 2179.69 A292.00 297.50 0 0 1 327.03 2150.84 Z" fill="#00FF7F"/>
<path d="M525.77 1932.83 L324.78 2148.64 A292.00 297.50 0 0 1 291.02 2109.76 Z" fill="#FF8C00"/>
<path d="M522.87 1928.36 L288.12 2105.30 A292.00 297.50 0 0 1 240.43 2003.90 Z" fill="#FF00FF"/>
<path d="M524.96 1908.18 L242.53 1983.71 A292.00 297.50 0 0 1 524.96 1610.68 Z" fill="#C3C3C3"/>
<text x="866.20" y="1481.40" font-size="26.00" font-weight="bold" textLength="12.60" lengthAdjust="spacingAndGlyphs">1</text>
<text x="866.20" y="1511.18" font-size="26.00" font-weight="bold" textLength="12.60" lengthAdjust="spacingAndGlyphs">2</text>
<text x="866.20" y="1540.96" font-size="26.00" font-weight="bold" textLength="12.60" lengthAdjust="spacingAndGlyphs">3</text>
<text x="866.20" y="1570.74" font-size="26.00" font-weight="bold" textLength="12.60" lengthAdjust="spacingAndGlyphs">4</text>
<text x="866.20" y="1600.52" font-size="26.00" font-weight="bold" textLength="12.60" lengthAdjust="spacingAndGlyphs">7</text>
<text x="866.20" y="1630.30" font-size="26.00" font-weight="bold" textLength="12.60" lengthAdjust="spacingAndGlyphs">8</text>
<text x="866.20" y="1660.08" font-size="26.00" font-weight="bold" textLength="25.40" lengthAdjust="spacingAndGlyphs">10</text>
<text x="866.20" y="1689.86" font-size="26.00" font-weight="bold" textLength="25.40" lengthAdjust="spacingAndGlyphs">11</text>
<text x="866.20" y="1719.64" font-size="26.00" font-weight="bold" textLength="25.40" lengthAdjust="spacingAndGlyphs">13</text>
<text x="866.20" y="1749.42" font-size="26.00" font-weight="bold" textLength="25.40" lengthAdjust="spacingAndGlyphs">14</text>
<text x="866.20" y="1779.20" font-size="26.00" font-weight="bold" textLength="25.40" lengthAdjust="spacingAndGlyphs">15</text>
<text x="866.20" y="1808.98" font-size="26.00" font-weight="bold" textLength="25.40" lengthAdjust="spacingAndGlyphs">16</text>
<text x="866.20" y="1838.76" font-size="26.00" font-weight="bold" textLength="25.40" lengthAdjust="spacingAndGlyphs">17</text>
<text x="866.20" y="1868.54" font-size="26.00" font-weight="bold" textLength="25.40" lengthAdjust="spacingAndGlyphs">18</text>
<text x="866.20" y="1898.32" font-size="26.00" font-weight="bold" textLength="25.40" lengthAdjust="spacingAndGlyphs">19</text>
<text x="866.20" y="1928.10" font-size="26.00" font-weight="bold" textLength="25.40" lengthAdjust="spacingAndGlyphs">20</text>
<text x="866.20" y="1957.88" font-size="26.00" font-weight="bold" textLength="25.40" lengthAdjust="spacingAndGlyphs">21</text>
<text x="866.20" y="1987.66" font-size="26.00" font-weight="bold" textLength="25.40" lengthAdjust="spacingAndGlyphs">24</text>
<text x="866.20" y="2017.44" font-size="26.00" font-weight="bold" textLength="25.40" lengthAdjust="spacingAndGlyphs">25</text>
<text x="866.20" y="2047.22" font-size="26.00" font-weight="bold" textLength="25.40" lengthAdjust="spacingAndGlyphs">26</text>
<text x="866.20" y="2171.60" font-size="26.00" font-weight="bold" textLength="25.40" lengthAdjust="spacingAndGlyphs">27</text>
<text x="866.20" y="2217.40" font-size="26.00" font-weight="bold" textLength="25.40" lengthAdjust="spacingAndGlyphs">28</text>
<text x="866.20" y="2242.20" font-size="26.00" font-weight="bold" textLength="25.40" lengthAdjust="spacingAndGlyphs">29</text>
<text x="209.80" y="1735.90" font-size="26.00" font-weight="bold" text-anchor="end" textLength="25.40" lengthAdjust="spacingAndGlyphs">35</text>
<text x="209.80" y="2067.00" font-size="26.00" font-weight="bold" text-anchor="end" textLength="25.40" lengthAdjust="spacingAndGlyphs">34</text>
<text x="209.80" y="2142.20" font-size="26.00" font-weight="bold" text-anchor="end" textLength="25.40" lengthAdjust="spacingAndGlyphs">33</text>
<text x="209.80" y="2177.40" font-size="26.00" font-weight="bold" text-anchor="end" textLength="25.40" lengthAdjust="spacingAndGlyphs">31</text>
<text x="209.80" y="2224.70" font-size="26.00" font-weight="bold" text-anchor="end" textLength="25.40" lengthAdjust="spacingAndGlyphs">30</text>
<path d="M560.70 1603.84 L729.16 1603.84 L860.20 1472.80 M584.51 1606.40 L756.38 1606.40 L860.20 1502.58 M597.13 1608.54 L784.02 1608.54 L860.20 1532.36 M609.67 1611.19 L811.15 1611.19 L860.20 1562.14 M614.32 1612.32 L839.80 1612.32 L860.20 1591.92 M620.48 1613.93 L852.43 1613.93 L860.20 1621.70 M637.33 1619.06 L827.78 1619.06 L860.20 1651.48 M653.87 1625.15 L804.09 1625.15 L860.20 1681.26 M668.54 1631.47 L780.63 1631.47 L860.20 1711.04 M680.00 1637.06 L756.44 1637.06 L860.20 1740.82 M682.78 1638.51 L728.11 1638.51 L860.20 1770.60 M708.98 1653.99 L713.81 1653.99 L860.20 1800.38 M759.81 1695.84 L762.28 1693.37 L764.36 1695.50 L766.42 1697.66 L768.46 1699.84 L770.47 1702.04 L772.47 1704.26 L774.44 1706.51 L776.39 1708.77 L778.32 1711.05 L780.22 1713.35 L782.11 1715.67 L783.97 1718.01 L785.80 1720.36 L787.62 1722.74 L789.41 1725.14 L791.17 1727.55 L792.92 1729.98 L794.64 1732.43 L796.33 1734.89 L797.34 1736.38 L860.20 1830.16 M786.19 1726.39 L788.96 1724.25 L790.76 1726.65 L792.53 1729.06 L794.27 1731.48 L796.00 1733.93 L797.69 1736.39 L799.37 1738.87 L801.02 1741.37 L802.64 1743.88 L804.24 1746.41 L805.82 1748.96 L807.37 1751.52 L808.89 1754.10 L810.39 1756.69 L811.87 1759.30 L813.32 1761.93 L814.74 1764.56 L816.14 1767.22 L817.51 1769.88 L818.85 1772.56 L820.17 1775.26 L821.21 1777.42 L860.20 1859.94 M789.09 1730.28 L791.89 1728.18 L793.65 1730.60 L795.38 1733.04 L797.09 1735.49 L798.78 1737.97 L800.44 1740.46 L802.08 1742.96 L803.69 1745.48 L805.27 1748.02 L806.84 1750.58 L808.37 1753.15 L809.88 1755.74 L811.37 1758.34 L812.83 1760.95 L814.27 1763.59 L815.67 1766.23 L817.06 1768.89 L818.41 1771.57 L819.74 1774.25 L821.05 1776.95 L822.33 1779.67 L823.58 1782.40 L824.80 1785.14 L826.00 1787.89 L827.17 1790.65 L828.31 1793.43 L829.42 1796.22 L830.51 1799.01 L831.57 1801.82 L832.60 1804.64 L833.61 1807.47 L834.59 1810.32 L835.53 1813.17 L835.91 1814.31 L860.20 1889.72 M837.76 1828.53 L841.11 1827.52 L841.95 1830.40 L842.76 1833.30 L843.54 1836.20 L844.29 1839.11 L845.02 1842.03 L845.72 1844.95 L846.38 1847.89 L847.02 1850.82 L847.63 1853.77 L848.21 1856.72 L860.20 1919.50 M850.08 1944.37 L855.29 1944.37 L860.20 1949.28 M849.20 1954.08 L860.20 1979.06 M848.84 1957.25 L860.20 2008.84 M829.44 2035.92 L857.50 2035.92 L860.20 2038.62 M743.57 2159.55 L856.55 2159.55 L860.20 2163.20 M670.05 2207.82 L859.02 2207.82 L860.20 2209.00 M572.00 2235.18 L858.82 2235.18 L860.20 2233.80 M215.80 1727.30 L293.75 1727.30 M215.80 2058.40 L259.53 2058.40 M215.80 2133.60 L307.07 2133.60 M215.80 2168.80 L343.92 2168.80 M215.80 2216.10 L421.87 2216.10" fill="none" stroke="#000" stroke-width="1.80" stroke-linejoin="miter"/>
<rect x="963.5" y="1534.8" width="879.4" height="773.3" rx="18" ry="18" fill="none" stroke="#9F9F9F" stroke-width="2.5"/>
<rect x="994.30" y="1572.80" width="15.50" height="14.80" fill="#008000" />
<text x="1017.70" y="1588.00" font-size="21.50" font-weight="bold" font-style="italic" textLength="24.50" lengthAdjust="spacingAndGlyphs" stroke="#000" stroke-width="0.45">1 -</text>
<text x="1059.60" y="1588.00" font-size="21.50" font-weight="bold" font-style="italic" textLength="28.40" lengthAdjust="spacingAndGlyphs" stroke="#000" stroke-width="0.45">PS</text>
<text x="1384.60" y="1588.00" font-size="21.50" font-weight="bold" font-style="italic" text-anchor="end" textLength="55.20" lengthAdjust="spacingAndGlyphs" stroke="#000" stroke-width="0.45">2.12%</text>
<rect x="1422.80" y="1572.80" width="15.50" height="14.80" fill="#ADFF2F" />
<text x="1446.90" y="1588.00" font-size="21.50" font-weight="bold" font-style="italic" textLength="24.50" lengthAdjust="spacingAndGlyphs" stroke="#000" stroke-width="0.45">2 -</text>
<text x="1488.10" y="1588.00" font-size="21.50" font-weight="bold" font-style="italic" textLength="118.60" lengthAdjust="spacingAndGlyphs" stroke="#000" stroke-width="0.45">major CHO</text>
<text x="1488.10" y="1615.40" font-size="21.50" font-weight="bold" font-style="italic" textLength="122.20" lengthAdjust="spacingAndGlyphs" stroke="#000" stroke-width="0.45">metabolism</text>
<text x="1813.70" y="1588.00" font-size="21.50" font-weight="bold" font-style="italic" text-anchor="end" textLength="55.20" lengthAdjust="spacingAndGlyphs" stroke="#000" stroke-width="0.45">0.33%</text>
<rect x="994.30" y="1638.00" width="15.50" height="14.80" fill="#DAA520" />
<text x="1017.70" y="1653.20" font-size="21.50" font-weight="bold" font-style="italic" textLength="24.50" lengthAdjust="spacingAndGlyphs" stroke="#000" stroke-width="0.45">3 -</text>
<text x="1059.60" y="1653.20" font-size="21.50" font-weight="bold" font-style="italic" textLength="118.60" lengthAdjust="spacingAndGlyphs" stroke="#000" stroke-width="0.45">minor CHO</text>
<text x="1059.60" y="1680.60" font-size="21.50" font-weight="bold" font-style="italic" textLength="122.20" lengthAdjust="spacingAndGlyphs" stroke="#000" stroke-width="0.45">metabolism</text>
<text x="1384.60" y="1653.20" font-size="21.50" font-weight="bold" font-style="italic" text-anchor="end" textLength="55.20" lengthAdjust="spacingAndGlyphs" stroke="#000" stroke-width="0.45">0.98%</text>
<rect x="1422.80" y="1638.00" width="15.50" height="14.80" fill="#8B0000" />
<text x="1446.90" y="1653.20" font-size="21.50" font-weight="bold" font-style="italic" textLength="24.50" lengthAdjust="spacingAndGlyphs" stroke="#000" stroke-width="0.45">4 -</text>
<text x="1488.10" y="1653.20" font-size="21.50" font-weight="bold" font-style="italic" textLength="103.90" lengthAdjust="spacingAndGlyphs" stroke="#000" stroke-width="0.45">glycolysis</text>
<text x="1813.70" y="1653.20" font-size="21.50" font-weight="bold" font-style="italic" text-anchor="end" textLength="55.20" lengthAdjust="spacingAndGlyphs" stroke="#000" stroke-width="0.45">0.33%</text>
<rect x="994.30" y="1703.90" width="15.50" height="14.80" fill="#DC143C" />
<text x="1017.70" y="1719.10" font-size="21.50" font-weight="bold" font-style="italic" textLength="24.50" lengthAdjust="spacingAndGlyphs" stroke="#000" stroke-width="0.45">7 -</text>
<text x="1059.60" y="1719.10" font-size="21.50" font-weight="bold" font-style="italic" textLength="48.30" lengthAdjust="spacingAndGlyphs" stroke="#000" stroke-width="0.45">OPP</text>
<text x="1384.60" y="1719.10" font-size="21.50" font-weight="bold" font-style="italic" text-anchor="end" textLength="55.20" lengthAdjust="spacingAndGlyphs" stroke="#000" stroke-width="0.45">0.16%</text>
<rect x="1422.80" y="1703.90" width="15.50" height="14.80" fill="#FFA500" />
<text x="1446.90" y="1719.10" font-size="21.50" font-weight="bold" font-style="italic" textLength="24.50" lengthAdjust="spacingAndGlyphs" stroke="#000" stroke-width="0.45">8 -</text>
<text x="1488.10" y="1719.10" font-size="21.50" font-weight="bold" font-style="italic" textLength="95.50" lengthAdjust="spacingAndGlyphs" stroke="#000" stroke-width="0.45">TCA / org</text>
<text x="1488.10" y="1746.50" font-size="21.50" font-weight="bold" font-style="italic" textLength="158.80" lengthAdjust="spacingAndGlyphs" stroke="#000" stroke-width="0.45">transformation</text>
<text x="1813.70" y="1719.10" font-size="21.50" font-weight="bold" font-style="italic" text-anchor="end" textLength="55.20" lengthAdjust="spacingAndGlyphs" stroke="#000" stroke-width="0.45">0.49%</text>
<rect x="994.30" y="1768.30" width="15.50" height="14.80" fill="#6B8E23" />
<text x="1017.70" y="1783.50" font-size="21.50" font-weight="bold" font-style="italic" textLength="36.80" lengthAdjust="spacingAndGlyphs" stroke="#000" stroke-width="0.45">10 -</text>
<text x="1059.60" y="1783.50" font-size="21.50" font-weight="bold" font-style="italic" textLength="87.80" lengthAdjust="spacingAndGlyphs" stroke="#000" stroke-width="0.45">cell wall</text>
<text x="1384.60" y="1783.50" font-size="21.50" font-weight="bold" font-style="italic" text-anchor="end" textLength="55.20" lengthAdjust="spacingAndGlyphs" stroke="#000" stroke-width="0.45">1.31%</text>
<rect x="1422.80" y="1768.30" width="15.50" height="14.80" fill="#FF1493" />
<text x="1446.90" y="1783.50" font-size="21.50" font-weight="bold" font-style="italic" textLength="36.80" lengthAdjust="spacingAndGlyphs" stroke="#000" stroke-width="0.45">11 -</text>
<text x="1488.10" y="1783.50" font-size="21.50" font-weight="bold" font-style="italic" textLength="178.90" lengthAdjust="spacingAndGlyphs" stroke="#000" stroke-width="0.45">lipid metabolism</text>
<text x="1813.70" y="1783.50" font-size="21.50" font-weight="bold" font-style="italic" text-anchor="end" textLength="55.20" lengthAdjust="spacingAndGlyphs" stroke="#000" stroke-width="0.45">0.49%</text>
<rect x="994.30" y="1806.40" width="15.50" height="14.80" fill="#F08080" />
<text x="1017.70" y="1821.60" font-size="21.50" font-weight="bold" font-style="italic" textLength="36.80" lengthAdjust="spacingAndGlyphs" stroke="#000" stroke-width="0.45">13 -</text>
<text x="1059.60" y="1821.60" font-size="21.50" font-weight="bold" font-style="italic" textLength="119.20" lengthAdjust="spacingAndGlyphs" stroke="#000" stroke-width="0.45">amino acid</text>
<text x="1059.60" y="1849.00" font-size="21.50" font-weight="bold" font-style="italic" textLength="122.20" lengthAdjust="spacingAndGlyphs" stroke="#000" stroke-width="0.45">metabolism</text>
<text x="1384.60" y="1821.60" font-size="21.50" font-weight="bold" font-style="italic" text-anchor="end" textLength="55.20" lengthAdjust="spacingAndGlyphs" stroke="#000" stroke-width="0.45">1.14%</text>
<rect x="1422.80" y="1806.40" width="15.50" height="14.80" fill="#2F4F4F" />
<text x="1446.90" y="1821.60" font-size="21.50" font-weight="bold" font-style="italic" textLength="36.80" lengthAdjust="spacingAndGlyphs" stroke="#000" stroke-width="0.45">14 -</text>
<text x="1488.10" y="1821.60" font-size="21.50" font-weight="bold" font-style="italic" textLength="151.40" lengthAdjust="spacingAndGlyphs" stroke="#000" stroke-width="0.45">S-assimilation</text>
<text x="1813.70" y="1821.60" font-size="21.50" font-weight="bold" font-style="italic" text-anchor="end" textLength="55.20" lengthAdjust="spacingAndGlyphs" stroke="#000" stroke-width="0.45">0.16%</text>
<rect x="994.30" y="1871.40" width="15.50" height="14.80" fill="#E0FFFF" />
<text x="1017.70" y="1886.60" font-size="21.50" font-weight="bold" font-style="italic" textLength="36.80" lengthAdjust="spacingAndGlyphs" stroke="#000" stroke-width="0.45">15 -</text>
<text x="1059.60" y="1886.60" font-size="21.50" font-weight="bold" font-style="italic" textLength="161.00" lengthAdjust="spacingAndGlyphs" stroke="#000" stroke-width="0.45">metal handling</text>
<text x="1384.60" y="1886.60" font-size="21.50" font-weight="bold" font-style="italic" text-anchor="end" textLength="55.20" lengthAdjust="spacingAndGlyphs" stroke="#000" stroke-width="0.45">0.16%</text>
<rect x="1422.80" y="1871.40" width="15.50" height="14.80" fill="#BDB76B" />
<text x="1446.90" y="1886.60" font-size="21.50" font-weight="bold" font-style="italic" textLength="36.80" lengthAdjust="spacingAndGlyphs" stroke="#000" stroke-width="0.45">16 -</text>
<text x="1488.10" y="1886.60" font-size="21.50" font-weight="bold" font-style="italic" textLength="107.90" lengthAdjust="spacingAndGlyphs" stroke="#000" stroke-width="0.45">secondary</text>
<text x="1488.10" y="1914.00" font-size="21.50" font-weight="bold" font-style="italic" textLength="122.20" lengthAdjust="spacingAndGlyphs" stroke="#000" stroke-width="0.45">metabolism</text>
<text x="1813.70" y="1886.60" font-size="21.50" font-weight="bold" font-style="italic" text-anchor="end" textLength="55.20" lengthAdjust="spacingAndGlyphs" stroke="#000" stroke-width="0.45">2.94%</text>
<rect x="994.30" y="1936.50" width="15.50" height="14.80" fill="#A52A2A" />
<text x="1017.70" y="1951.70" font-size="21.50" font-weight="bold" font-style="italic" textLength="36.80" lengthAdjust="spacingAndGlyphs" stroke="#000" stroke-width="0.45">17 -</text>
<text x="1059.60" y="1951.70" font-size="21.50" font-weight="bold" font-style="italic" textLength="222.50" lengthAdjust="spacingAndGlyphs" stroke="#000" stroke-width="0.45">hormone metabolism</text>
<text x="1384.60" y="1951.70" font-size="21.50" font-weight="bold" font-style="italic" text-anchor="end" textLength="55.20" lengthAdjust="spacingAndGlyphs" stroke="#000" stroke-width="0.45">3.76%</text>
<rect x="1422.80" y="1936.50" width="15.50" height="14.80" fill="#5F9EA0" />
<text x="1446.90" y="1951.70" font-size="21.50" font-weight="bold" font-style="italic" textLength="36.80" lengthAdjust="spacingAndGlyphs" stroke="#000" stroke-width="0.45">18 -</text>
<text x="1488.10" y="1951.70" font-size="21.50" font-weight="bold" font-style="italic" textLength="144.70" lengthAdjust="spacingAndGlyphs" stroke="#000" stroke-width="0.45">Co-factor and</text>
<text x="1488.10" y="1979.10" font-size="21.50" font-weight="bold" font-style="italic" textLength="220.80" lengthAdjust="spacingAndGlyphs" stroke="#000" stroke-width="0.45">vitamine metabolism</text>
<text x="1813.70" y="1951.70" font-size="21.50" font-weight="bold" font-style="italic" text-anchor="end" textLength="55.20" lengthAdjust="spacingAndGlyphs" stroke="#000" stroke-width="0.45">0.33%</text>
<rect x="994.30" y="2002.40" width="15.50" height="14.80" fill="#7CFC00" />
<text x="1017.70" y="2017.60" font-size="21.50" font-weight="bold" font-style="italic" textLength="36.80" lengthAdjust="spacingAndGlyphs" stroke="#000" stroke-width="0.45">19 -</text>
<text x="1059.60" y="2017.60" font-size="21.50" font-weight="bold" font-style="italic" textLength="227.00" lengthAdjust="spacingAndGlyphs" stroke="#000" stroke-width="0.45">tetrapyrrole synthesis</text>
<text x="1384.60" y="2017.60" font-size="21.50" font-weight="bold" font-style="italic" text-anchor="end" textLength="55.20" lengthAdjust="spacingAndGlyphs" stroke="#000" stroke-width="0.45">0.16%</text>
<rect x="1422.80" y="2002.40" width="15.50" height="14.80" fill="#E9967A" />
<text x="1446.90" y="2017.60" font-size="21.50" font-weight="bold" font-style="italic" textLength="36.80" lengthAdjust="spacingAndGlyphs" stroke="#000" stroke-width="0.45">20 -</text>
<text x="1488.10" y="2017.60" font-size="21.50" font-weight="bold" font-style="italic" textLength="57.60" lengthAdjust="spacingAndGlyphs" stroke="#000" stroke-width="0.45">stress</text>
<text x="1813.70" y="2017.60" font-size="21.50" font-weight="bold" font-style="italic" text-anchor="end" textLength="67.00" lengthAdjust="spacingAndGlyphs" stroke="#000" stroke-width="0.45">10.95%</text>
<rect x="994.30" y="2039.90" width="15.50" height="14.80" fill="#800080" />
<text x="1017.70" y="2055.10" font-size="21.50" font-weight="bold" font-style="italic" textLength="36.80" lengthAdjust="spacingAndGlyphs" stroke="#000" stroke-width="0.45">21 -</text>
<text x="1059.60" y="2055.10" font-size="21.50" font-weight="bold" font-style="italic" textLength="57.70" lengthAdjust="spacingAndGlyphs" stroke="#000" stroke-width="0.45">redox</text>
<text x="1384.60" y="2055.10" font-size="21.50" font-weight="bold" font-style="italic" text-anchor="end" textLength="55.20" lengthAdjust="spacingAndGlyphs" stroke="#000" stroke-width="0.45">0.82%</text>
<rect x="1422.80" y="2039.90" width="15.50" height="14.80" fill="#FF6347" />
<text x="1446.90" y="2055.10" font-size="21.50" font-weight="bold" font-style="italic" textLength="36.80" lengthAdjust="spacingAndGlyphs" stroke="#000" stroke-width="0.45">24 -</text>
<text x="1488.10" y="2055.10" font-size="21.50" font-weight="bold" font-style="italic" textLength="196.00" lengthAdjust="spacingAndGlyphs" stroke="#000" stroke-width="0.45">Biodegradation of</text>
<text x="1488.10" y="2082.50" font-size="21.50" font-weight="bold" font-style="italic" textLength="123.60" lengthAdjust="spacingAndGlyphs" stroke="#000" stroke-width="0.45">Xenobiotics</text>
<text x="1813.70" y="2055.10" font-size="21.50" font-weight="bold" font-style="italic" text-anchor="end" textLength="55.20" lengthAdjust="spacingAndGlyphs" stroke="#000" stroke-width="0.45">0.16%</text>
<rect x="994.30" y="2105.50" width="15.50" height="14.80" fill="#D8BFD8" />
<text x="1017.70" y="2120.70" font-size="21.50" font-weight="bold" font-style="italic" textLength="36.80" lengthAdjust="spacingAndGlyphs" stroke="#000" stroke-width="0.45">25 -</text>
<text x="1059.60" y="2120.70" font-size="21.50" font-weight="bold" font-style="italic" textLength="155.20" lengthAdjust="spacingAndGlyphs" stroke="#000" stroke-width="0.45">C1-metabolism</text>
<text x="1384.60" y="2120.70" font-size="21.50" font-weight="bold" font-style="italic" text-anchor="end" textLength="55.20" lengthAdjust="spacingAndGlyphs" stroke="#000" stroke-width="0.45">0.16%</text>
<rect x="1422.80" y="2105.50" width="15.50" height="14.80" fill="#F5F5F5" />
<text x="1446.90" y="2120.70" font-size="21.50" font-weight="bold" font-style="italic" textLength="36.80" lengthAdjust="spacingAndGlyphs" stroke="#000" stroke-width="0.45">26 -</text>
<text x="1488.10" y="2120.70" font-size="21.50" font-weight="bold" font-style="italic" textLength="46.90" lengthAdjust="spacingAndGlyphs" stroke="#000" stroke-width="0.45">misc</text>
<text x="1813.70" y="2120.70" font-size="21.50" font-weight="bold" font-style="italic" text-anchor="end" textLength="55.20" lengthAdjust="spacingAndGlyphs" stroke="#000" stroke-width="0.45">8.01%</text>
<rect x="994.30" y="2142.40" width="15.50" height="14.80" fill="#BC8F8F" />
<text x="1017.70" y="2157.60" font-size="21.50" font-weight="bold" font-style="italic" textLength="36.80" lengthAdjust="spacingAndGlyphs" stroke="#000" stroke-width="0.45">27 -</text>
<text x="1059.60" y="2157.60" font-size="21.50" font-weight="bold" font-style="italic" textLength="45.40" lengthAdjust="spacingAndGlyphs" stroke="#000" stroke-width="0.45">RNA</text>
<text x="1384.60" y="2157.60" font-size="21.50" font-weight="bold" font-style="italic" text-anchor="end" textLength="55.20" lengthAdjust="spacingAndGlyphs" stroke="#000" stroke-width="0.45">7.35%</text>
<rect x="1422.80" y="2142.40" width="15.50" height="14.80" fill="#FFDEAD" />
<text x="1446.90" y="2157.60" font-size="21.50" font-weight="bold" font-style="italic" textLength="36.80" lengthAdjust="spacingAndGlyphs" stroke="#000" stroke-width="0.45">28 -</text>
<text x="1488.10" y="2157.60" font-size="21.50" font-weight="bold" font-style="italic" textLength="45.20" lengthAdjust="spacingAndGlyphs" stroke="#000" stroke-width="0.45">DNA</text>
<text x="1813.70" y="2157.60" font-size="21.50" font-weight="bold" font-style="italic" text-anchor="end" textLength="55.20" lengthAdjust="spacingAndGlyphs" stroke="#000" stroke-width="0.45">1.63%</text>
<rect x="994.30" y="2180.50" width="15.50" height="14.80" fill="#7B68EE" />
<text x="1017.70" y="2195.70" font-size="21.50" font-weight="bold" font-style="italic" textLength="36.80" lengthAdjust="spacingAndGlyphs" stroke="#000" stroke-width="0.45">29 -</text>
<text x="1059.60" y="2195.70" font-size="21.50" font-weight="bold" font-style="italic" textLength="75.50" lengthAdjust="spacingAndGlyphs" stroke="#000" stroke-width="0.45">protein</text>
<text x="1384.60" y="2195.70" font-size="21.50" font-weight="bold" font-style="italic" text-anchor="end" textLength="55.20" lengthAdjust="spacingAndGlyphs" stroke="#000" stroke-width="0.45">8.82%</text>
<rect x="1422.80" y="2180.50" width="15.50" height="14.80" fill="#DEB887" />
<text x="1446.90" y="2195.70" font-size="21.50" font-weight="bold" font-style="italic" textLength="36.80" lengthAdjust="spacingAndGlyphs" stroke="#000" stroke-width="0.45">30 -</text>
<text x="1488.10" y="2195.70" font-size="21.50" font-weight="bold" font-style="italic" textLength="107.90" lengthAdjust="spacingAndGlyphs" stroke="#000" stroke-width="0.45">signalling</text>
<text x="1813.70" y="2195.70" font-size="21.50" font-weight="bold" font-style="italic" text-anchor="end" textLength="55.20" lengthAdjust="spacingAndGlyphs" stroke="#000" stroke-width="0.45">6.86%</text>
<rect x="994.30" y="2217.70" width="15.50" height="14.80" fill="#00FF7F" />
<text x="1017.70" y="2232.90" font-size="21.50" font-weight="bold" font-style="italic" textLength="36.80" lengthAdjust="spacingAndGlyphs" stroke="#000" stroke-width="0.45">31 -</text>
<text x="1059.60" y="2232.90" font-size="21.50" font-weight="bold" font-style="italic" textLength="38.00" lengthAdjust="spacingAndGlyphs" stroke="#000" stroke-width="0.45">cell</text>
<text x="1384.60" y="2232.90" font-size="21.50" font-weight="bold" font-style="italic" text-anchor="end" textLength="55.20" lengthAdjust="spacingAndGlyphs" stroke="#000" stroke-width="0.45">2.45%</text>
<rect x="1422.80" y="2217.70" width="15.50" height="14.80" fill="#FF8C00" />
<text x="1446.90" y="2232.90" font-size="21.50" font-weight="bold" font-style="italic" textLength="36.80" lengthAdjust="spacingAndGlyphs" stroke="#000" stroke-width="0.45">33 -</text>
<text x="1488.10" y="2232.90" font-size="21.50" font-weight="bold" font-style="italic" textLength="134.70" lengthAdjust="spacingAndGlyphs" stroke="#000" stroke-width="0.45">development</text>
<text x="1813.70" y="2232.90" font-size="21.50" font-weight="bold" font-style="italic" text-anchor="end" textLength="55.20" lengthAdjust="spacingAndGlyphs" stroke="#000" stroke-width="0.45">2.78%</text>
<rect x="994.30" y="2255.70" width="15.50" height="14.80" fill="#FF00FF" />
<text x="1017.70" y="2270.90" font-size="21.50" font-weight="bold" font-style="italic" textLength="36.80" lengthAdjust="spacingAndGlyphs" stroke="#000" stroke-width="0.45">34 -</text>
<text x="1059.60" y="2270.90" font-size="21.50" font-weight="bold" font-style="italic" textLength="98.70" lengthAdjust="spacingAndGlyphs" stroke="#000" stroke-width="0.45">transport</text>
<text x="1384.60" y="2270.90" font-size="21.50" font-weight="bold" font-style="italic" text-anchor="end" textLength="55.20" lengthAdjust="spacingAndGlyphs" stroke="#000" stroke-width="0.45">6.05%</text>
<rect x="1422.80" y="2255.70" width="15.50" height="14.80" fill="#C3C3C3" />
<text x="1446.90" y="2270.90" font-size="21.50" font-weight="bold" font-style="italic" textLength="36.80" lengthAdjust="spacingAndGlyphs" stroke="#000" stroke-width="0.45">35 -</text>
<text x="1488.10" y="2270.90" font-size="21.50" font-weight="bold" font-style="italic" textLength="133.00" lengthAdjust="spacingAndGlyphs" stroke="#000" stroke-width="0.45">not assigned</text>
<text x="1813.70" y="2270.90" font-size="21.50" font-weight="bold" font-style="italic" text-anchor="end" textLength="67.00" lengthAdjust="spacingAndGlyphs" stroke="#000" stroke-width="0.45">29.08%</text>
</svg></body></html>
